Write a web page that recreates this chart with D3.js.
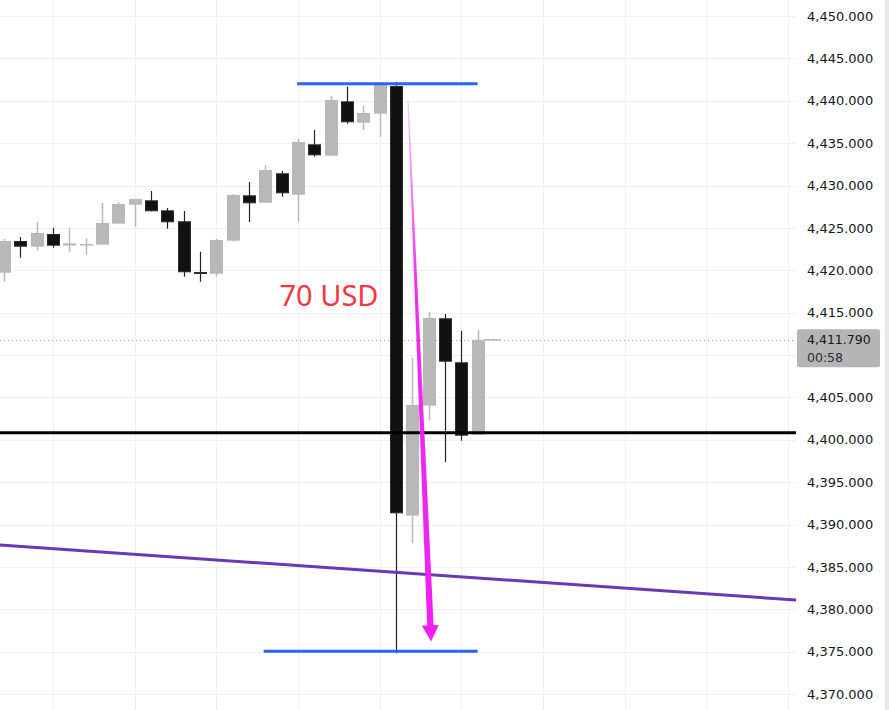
<!DOCTYPE html>
<html><head><meta charset="utf-8">
<script src="https://cdn.jsdelivr.net/npm/d3@7"></script>
<style>html,body{margin:0;padding:0;background:#fff;}svg{display:block;}</style>
</head><body>
<svg id="chart" width="889" height="710"></svg>
<script>
// ---- data ----
const opens  = [4419.71,4423.45,4422.78,4424.28,4422.92,4422.95,4423.02,4425.50,4427.74,4428.25,4427.07,4425.78,4419.79,4419.59,4423.49,4428.84,4427.97,4431.44,4428.91,4434.86,4433.52,4439.93,4437.41,4438.47,4441.74,4391.04,4404.02,4414.33,4409.14,4400.60];
const highs  = [4423.69,4423.92,4425.69,4424.99,4424.99,4423.77,4427.94,4428.05,4428.45,4429.35,4427.34,4426.99,4422.19,4423.69,4429.00,4430.41,4432.42,4431.71,4435.49,4436.55,4440.56,4441.66,4439.38,4442.00,4442.21,4409.68,4415.07,4414.84,4412.83,4412.95];
const lows   = [4418.65,4421.48,4422.31,4422.66,4422.19,4421.83,4423.02,4425.50,4425.14,4426.96,4424.90,4419.24,4418.65,4419.24,4423.40,4425.69,4427.97,4428.68,4425.69,4433.40,4433.52,4437.29,4436.55,4435.76,4374.80,4387.78,4402.25,4397.37,4399.89,4400.60];
const closes = [4423.45,4422.78,4424.40,4422.90,4423.16,4423.10,4425.58,4427.82,4428.41,4426.96,4425.66,4419.76,4419.62,4423.57,4428.88,4427.90,4431.83,4429.08,4435.13,4433.56,4440.09,4437.46,4438.55,4441.98,4391.32,4404.10,4414.37,4409.21,4400.48,4411.79];
const gridTicks = [4370,4375,4380,4385,4390,4395,4400,4405,4410,4415,4420,4425,4430,4435,4440,4445,4450];
// 4,410.000 is hidden behind the last-price label in the reference
const yTicks = [4370,4375,4380,4385,4390,4395,4400,4405,4415,4420,4425,4430,4435,4440,4445,4450];
const yTickLabels = ["4,370.000","4,375.000","4,380.000","4,385.000","4,390.000","4,395.000","4,400.000","4,405.000","4,415.000","4,420.000","4,425.000","4,430.000","4,435.000","4,440.000","4,445.000","4,450.000"];
const xGridIdx = [3,8,13,18,23,28,33,38,43,48];
const lastPrice = 4411.79;
const lastPriceLabel = "4,411.790";
const countdown = "00:58";
const blueTop = [17.95, 29.0, 4442.0];      // [fromIdx, toIdx, price]
const blueBottom = [15.9, 29.0, 4375.04];
const supportLevel = 4400.83;
const trendStart = [-0.25, 4387.58];        // [idx, price]
const trendEnd = [48.5, 4381.09];
const arrowStart = [24.74, 4439.97];
const arrowEnd = [26.15, 4376.2];
const annotation = "70 USD";
const annotationPos = [19.9, 4415.8];

// ---- scales ----
const W = 889, H = 710, plotRight = 796;
const x = d3.scaleLinear().domain([0, 29]).range([4, 477.6]);
const y = d3.scaleLinear().domain([4370, 4450]).range([694, 16]);
const svg = d3.select("#chart");

svg.append("rect").attr("width", W).attr("height", H).attr("fill", "#fff");

// grid
const grid = svg.append("g");
grid.selectAll("line.h").data(gridTicks).enter().append("line")
  .attr("x1", 0).attr("x2", plotRight)
  .attr("y1", d => Math.round(y(d)) + 0.5).attr("y2", d => Math.round(y(d)) + 0.5)
  .attr("stroke", "#f0f0f0").attr("stroke-width", 1);
grid.selectAll("line.v").data(xGridIdx).enter().append("line")
  .attr("x1", d => Math.round(x(d)) + 0.5).attr("x2", d => Math.round(x(d)) + 0.5)
  .attr("y1", 0).attr("y2", H)
  .attr("stroke", "#f0f0f0").attr("stroke-width", 1);

// right axis
const axisG = svg.append("g").attr("transform", `translate(${plotRight},0)`);
const axis = d3.axisRight(y).tickValues(yTicks).tickSize(0).tickPadding(11)
  .tickFormat((d, i) => yTickLabels[i]);
axisG.call(axis);
axisG.select(".domain").remove();
axisG.selectAll("text").attr("font-family", "DejaVu Sans").attr("font-size", 13).attr("fill", "#131722");
svg.append("rect").attr("x", 885).attr("y", 0).attr("width", 4).attr("height", H).attr("fill", "#e8e8e8");

// last price dotted line
svg.append("line").attr("x1", 0).attr("x2", plotRight)
  .attr("y1", Math.round(y(lastPrice)) + 0.5).attr("y2", Math.round(y(lastPrice)) + 0.5)
  .attr("stroke", "#9e9e9e").attr("stroke-width", 1).attr("stroke-dasharray", "1,3");

// candles
const idx = d3.range(opens.length);
const bodyW = 13;
const cg = svg.append("g");
idx.forEach(i => {
  const up = closes[i] >= opens[i];
  const cx = Math.round(x(i)) + 0.5;
  cg.append("line").attr("x1", cx).attr("x2", cx)
    .attr("y1", y(highs[i])).attr("y2", y(lows[i]))
    .attr("stroke", up ? "#b8b8b8" : "#222").attr("stroke-width", up ? 1.5 : 1.2);
  const top = y(Math.max(opens[i], closes[i]));
  const bot = y(Math.min(opens[i], closes[i]));
  if (up) {
    cg.append("rect").attr("x", cx - bodyW / 2).attr("y", top)
      .attr("width", bodyW).attr("height", Math.max(bot - top, 1.5))
      .attr("fill", "#b8b8b8");
  } else {
    cg.append("rect").attr("x", cx - bodyW / 2 + 0.5).attr("y", top + 0.5)
      .attr("width", bodyW - 1).attr("height", Math.max(bot - top - 1, 1))
      .attr("fill", "#111").attr("stroke", "#2c2c2c").attr("stroke-width", 1);
  }
});
// short current price tick
svg.append("line").attr("x1", x(29) + 6.5).attr("x2", x(29) + 23)
  .attr("y1", y(lastPrice)).attr("y2", y(lastPrice))
  .attr("stroke", "#b8b8b8").attr("stroke-width", 1.5);

// support line
svg.append("line").attr("x1", 0).attr("x2", plotRight)
  .attr("y1", y(supportLevel)).attr("y2", y(supportLevel))
  .attr("stroke", "#000").attr("stroke-width", 3);

// trend line (purple)
svg.append("line").attr("x1", x(trendStart[0])).attr("y1", y(trendStart[1]))
  .attr("x2", x(trendEnd[0])).attr("y2", y(trendEnd[1]))
  .attr("stroke", "#673ab7").attr("stroke-width", 3);

// blue lines
[blueTop, blueBottom].forEach(b => {
  svg.append("line").attr("x1", x(b[0])).attr("x2", x(b[1]))
    .attr("y1", y(b[2])).attr("y2", y(b[2]))
    .attr("stroke", "#2962ff").attr("stroke-width", 3);
});

// magenta tapered arrow
const defs = svg.append("defs");
const ax0 = x(arrowStart[0]), ay0 = y(arrowStart[1]);
const ax1 = x(arrowEnd[0]), ay1 = y(arrowEnd[1]);
const grad = defs.append("linearGradient").attr("id", "ag")
  .attr("gradientUnits", "userSpaceOnUse")
  .attr("x1", ax0).attr("y1", ay0).attr("x2", ax1).attr("y2", ay1);
grad.append("stop").attr("offset", 0).attr("stop-color", "#f020f0").attr("stop-opacity", 0.25);
grad.append("stop").attr("offset", 0.35).attr("stop-color", "#f020f0").attr("stop-opacity", 0.95);
grad.append("stop").attr("offset", 1).attr("stop-color", "#f020f0").attr("stop-opacity", 1);
const dx = ax1 - ax0, dy = ay1 - ay0, len = Math.hypot(dx, dy);
const ux = dx / len, uy = dy / len, nx = -uy, ny = ux;
const headLen = 16, headHalf = 8.5, w0 = 0.6, w1 = 3.2;
const bx = ax1 - ux * headLen, by = ay1 - uy * headLen;
const pts = [
  [ax0 + nx * w0, ay0 + ny * w0],
  [bx + nx * w1, by + ny * w1],
  [bx + nx * headHalf, by + ny * headHalf],
  [ax1, ay1],
  [bx - nx * headHalf, by - ny * headHalf],
  [bx - nx * w1, by - ny * w1],
  [ax0 - nx * w0, ay0 - ny * w0]
];
svg.append("path").attr("d", d3.line()(pts) + "Z").attr("fill", "url(#ag)");

// annotation text
svg.append("text").attr("x", x(annotationPos[0])).attr("y", y(annotationPos[1]))
  .attr("text-anchor", "middle").attr("font-family", "Noto Sans").attr("font-size", 29)
  .attr("fill", "#f23645").text(annotation);

// price label
const lp = y(lastPrice);
svg.append("rect").attr("x", 797).attr("y", lp - 10.5).attr("width", 83).attr("height", 38)
  .attr("rx", 2).attr("fill", "#b5b5b5");
svg.append("text").attr("x", 807).attr("y", lp + 4).attr("font-family", "DejaVu Sans")
  .attr("font-size", 12.5).attr("fill", "#131722").text(lastPriceLabel);
svg.append("text").attr("x", 807).attr("y", lp + 22).attr("font-family", "DejaVu Sans")
  .attr("font-size", 12.5).attr("fill", "#2a2e39").text(countdown);
</script>
</body></html>
